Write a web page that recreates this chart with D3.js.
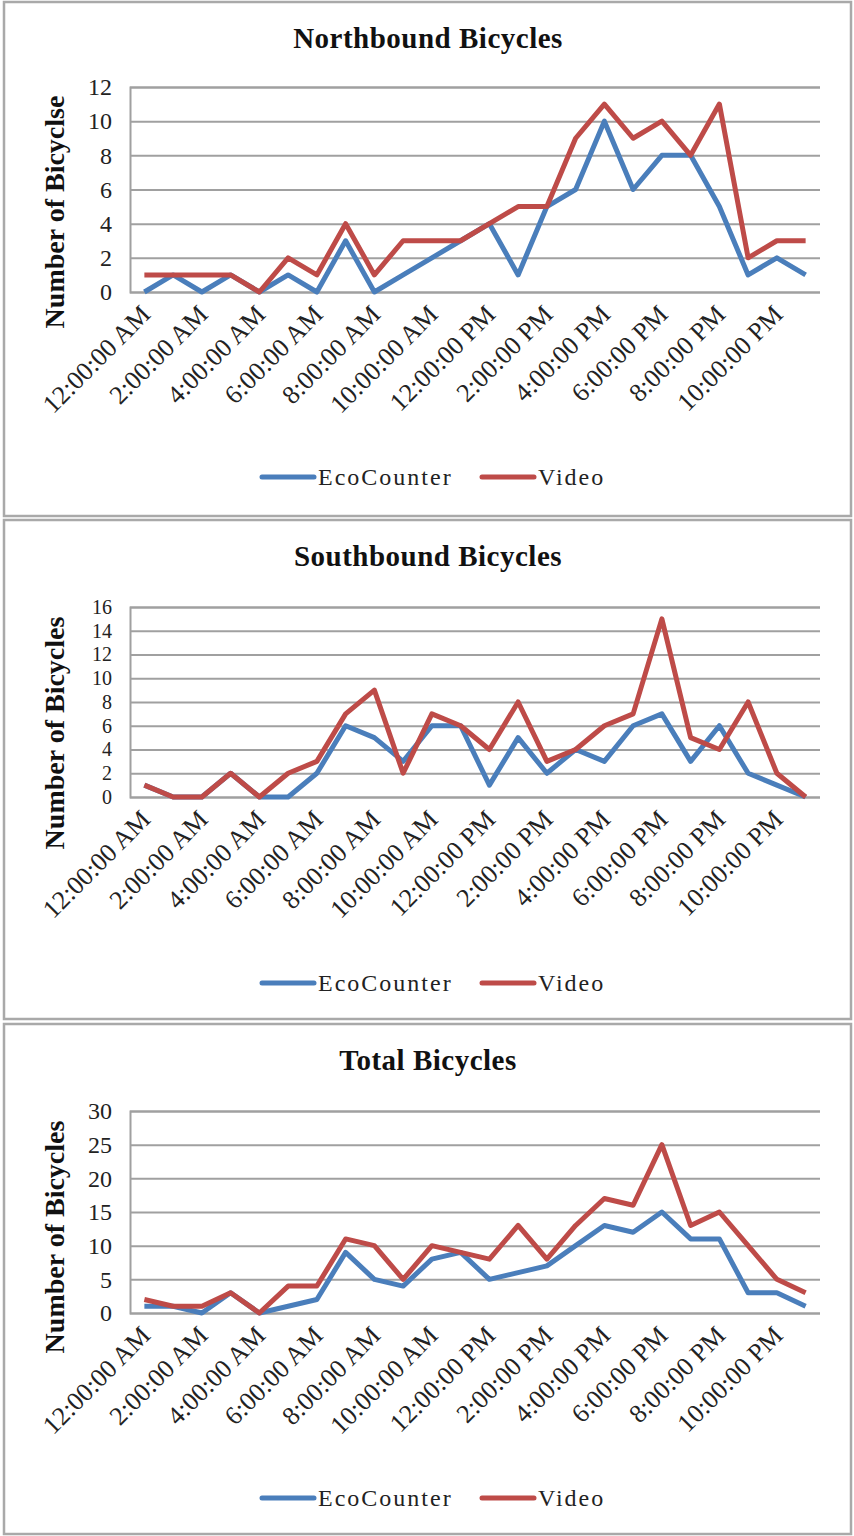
<!DOCTYPE html>
<html>
<head>
<meta charset="utf-8">
<script src="https://cdn.jsdelivr.net/npm/d3@7"></script>
<style>
  body { margin: 0; background: #fff; }
  svg { display: block; }
</style>
</head>
<body>
<div id="chart"></div>
<script>
// Hour categories (one per hour of the day)
var hours = ["12:00:00 AM", "1:00:00 AM", "2:00:00 AM", "3:00:00 AM", "4:00:00 AM", "5:00:00 AM",
    "6:00:00 AM", "7:00:00 AM", "8:00:00 AM", "9:00:00 AM", "10:00:00 AM", "11:00:00 AM",
    "12:00:00 PM", "1:00:00 PM", "2:00:00 PM", "3:00:00 PM", "4:00:00 PM", "5:00:00 PM",
    "6:00:00 PM", "7:00:00 PM", "8:00:00 PM", "9:00:00 PM", "10:00:00 PM", "11:00:00 PM"];

// Only every other hour gets a label
var hourTicks = ["12:00:00 AM", "2:00:00 AM", "4:00:00 AM", "6:00:00 AM", "8:00:00 AM", "10:00:00 AM",
    "12:00:00 PM", "2:00:00 PM", "4:00:00 PM", "6:00:00 PM", "8:00:00 PM", "10:00:00 PM"];

var seriesNames = ["EcoCounter", "Video"];

var northEco   = [0, 1, 0, 1, 0, 1, 0, 3, 0, 1, 2, 3, 4, 1, 5, 6, 10, 6, 8, 8, 5, 1, 2, 1];
var northVideo = [1, 1, 1, 1, 0, 2, 1, 4, 1, 3, 3, 3, 4, 5, 5, 9, 11, 9, 10, 8, 11, 2, 3, 3];

var southEco   = [1, 0, 0, 2, 0, 0, 2, 6, 5, 3, 6, 6, 1, 5, 2, 4, 3, 6, 7, 3, 6, 2, 1, 0];
var southVideo = [1, 0, 0, 2, 0, 2, 3, 7, 9, 2, 7, 6, 4, 8, 3, 4, 6, 7, 15, 5, 4, 8, 2, 0];

var totalEco   = [1, 1, 0, 3, 0, 1, 2, 9, 5, 4, 8, 9, 5, 6, 7, 10, 13, 12, 15, 11, 11, 3, 3, 1];
var totalVideo = [2, 1, 1, 3, 0, 4, 4, 11, 10, 5, 10, 9, 8, 13, 8, 13, 17, 16, 25, 13, 15, 10, 5, 3];

var northTicks = [0, 2, 4, 6, 8, 10, 12];
var southTicks = [0, 2, 4, 6, 8, 10, 12, 14, 16];
var totalTicks = [0, 5, 10, 15, 20, 25, 30];

var colors = ["#4a7ebb", "#be4b48"];

var svgWidth = 854;
var svgHeight = 1536;

var plotLeft = 130;
var plotRight = 820;

var svg = d3.select("#chart")
    .append("svg")
    .attr("width", svgWidth)
    .attr("height", svgHeight);

// panel layout
var panels = [
    { title: "Northbound Bicycles", yTitle: "Number of Bicyclse", eco: northEco, video: northVideo,
      ticks: northTicks, tickFont: 24, top: 2, bottom: 516, plotTop: 87, plotBottom: 292, yTitleY: 212, legendY: 477 },
    { title: "Southbound Bicycles", yTitle: "Number of Bicycles", eco: southEco, video: southVideo,
      ticks: southTicks, tickFont: 20, top: 520, bottom: 1019, plotTop: 607, plotBottom: 797, yTitleY: 733, legendY: 983 },
    { title: "Total Bicycles", yTitle: "Number of Bicycles", eco: totalEco, video: totalVideo,
      ticks: totalTicks, tickFont: 24, top: 1024, bottom: 1534, plotTop: 1111, plotBottom: 1313, yTitleY: 1237, legendY: 1498 }
];

var xScale = d3.scalePoint()
    .domain(hours)
    .range([plotLeft, plotRight])
    .padding(0.5);

panels.forEach(function(p) {
    var g = svg.append("g");

    // panel frame
    g.append("rect")
        .attr("x", 4)
        .attr("y", p.top)
        .attr("width", 847)
        .attr("height", p.bottom - p.top)
        .attr("fill", "#fff")
        .attr("stroke", "#a9a9a9")
        .attr("stroke-width", 2.5);

    var yScale = d3.scaleLinear()
        .domain([0, d3.max(p.ticks)])
        .range([p.plotBottom, p.plotTop]);

    // gridlines + y labels
    var yAxis = g.append("g")
        .attr("transform", `translate(${plotLeft}, 0)`)
        .call(d3.axisLeft(yScale)
            .tickValues(p.ticks)
            .tickSize(-(plotRight - plotLeft))
            .tickPadding(18));
    yAxis.select(".domain")
        .attr("stroke", "#a0a0a0")
        .attr("stroke-width", 2);
    yAxis.selectAll(".tick line")
        .attr("stroke", "#a0a0a0")
        .attr("stroke-width", 2);
    yAxis.selectAll(".tick text")
        .attr("font-family", "Liberation Serif, serif")
        .attr("font-size", p.tickFont + "px")
        .attr("fill", "#222");

    // x labels
    var xAxis = g.append("g")
        .attr("transform", `translate(0, ${p.plotBottom})`)
        .call(d3.axisBottom(xScale)
            .tickValues(hourTicks)
            .tickSize(0));
    xAxis.select(".domain").remove();
    xAxis.selectAll(".tick text")
        .attr("font-family", "Liberation Serif, serif")
        .attr("font-size", "26px")
        .attr("fill", "#222")
        .attr("text-anchor", "end")
        .attr("dy", null)
        .attr("y", null)
        .attr("transform", "translate(7, 24) rotate(-45)");

    // lines
    var line = d3.line()
        .x(function(d, i) { return xScale(hours[i]); })
        .y(function(d) { return yScale(d); });

    [p.eco, p.video].forEach(function(vals, k) {
        g.append("path")
            .datum(vals)
            .attr("d", line)
            .attr("fill", "none")
            .attr("stroke", colors[k])
            .attr("stroke-width", 5)
            .attr("stroke-linejoin", "round");
    });

    // title
    g.append("text")
        .attr("x", 428)
        .attr("y", p.top + 46)
        .attr("text-anchor", "middle")
        .attr("font-family", "Liberation Serif, serif")
        .attr("font-weight", "bold")
        .attr("font-size", "29px")
        .attr("letter-spacing", "0.5px")
        .attr("fill", "#111")
        .text(p.title);

    // y axis title
    g.append("text")
        .attr("transform", `translate(64, ${p.yTitleY}) rotate(-90)`)
        .attr("text-anchor", "middle")
        .attr("font-family", "Liberation Serif, serif")
        .attr("font-weight", "bold")
        .attr("font-size", "28px")
        .attr("fill", "#111")
        .text(p.yTitle);

    // legend
    var legendX = [262, 482];
    seriesNames.forEach(function(name, k) {
        g.append("line")
            .attr("x1", legendX[k])
            .attr("x2", legendX[k] + 52)
            .attr("y1", p.legendY)
            .attr("y2", p.legendY)
            .attr("stroke", colors[k])
            .attr("stroke-width", 5)
            .attr("stroke-linecap", "round");
        g.append("text")
            .attr("x", legendX[k] + 56)
            .attr("y", p.legendY + 8)
            .attr("font-family", "Liberation Serif, serif")
            .attr("font-size", "24px")
            .attr("letter-spacing", "2px")
            .attr("fill", "#222")
            .text(name);
    });
});
</script>
</body>
</html>
